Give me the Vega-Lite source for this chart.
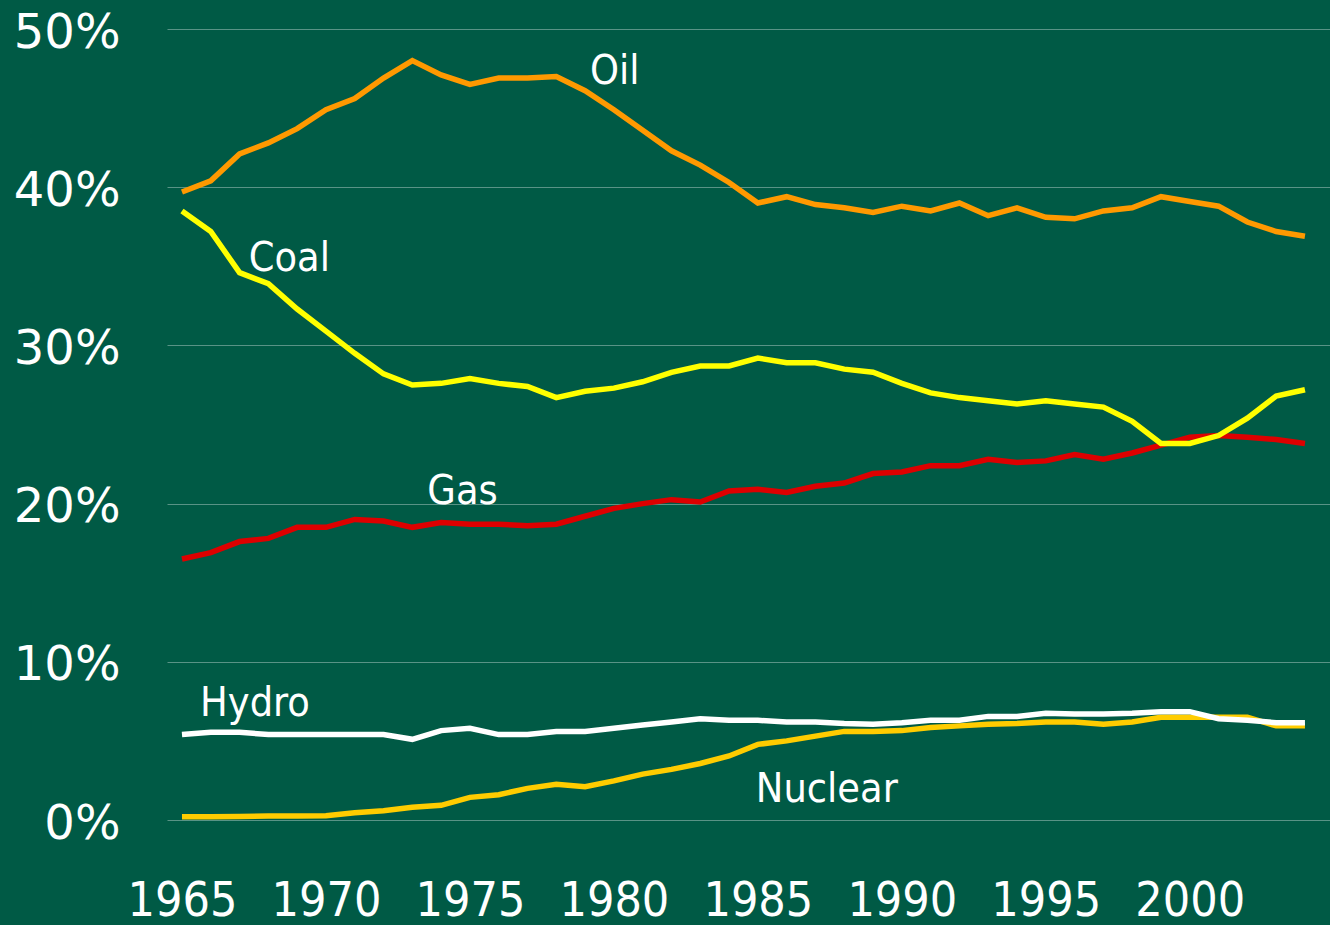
{
  "$schema": "https://vega.github.io/schema/vega-lite/v6.json",
  "width": 1163,
  "height": 791,
  "autosize": {"type": "none"},
  "padding": {"left": 167, "top": 29, "right": 0, "bottom": 105},
  "background": "#005A45",
  "config": {"view": {"stroke": null}},
  "datasets": {
    "energy": [
      {"year":1965,"s":"Oil","v":39.7},{"year":1966,"s":"Oil","v":40.4},{"year":1967,"s":"Oil","v":42.1},{"year":1968,"s":"Oil","v":42.8},{"year":1969,"s":"Oil","v":43.7},{"year":1970,"s":"Oil","v":44.9},{"year":1971,"s":"Oil","v":45.6},{"year":1972,"s":"Oil","v":46.9},{"year":1973,"s":"Oil","v":48.0},{"year":1974,"s":"Oil","v":47.1},{"year":1975,"s":"Oil","v":46.5},{"year":1976,"s":"Oil","v":46.9},{"year":1977,"s":"Oil","v":46.9},{"year":1978,"s":"Oil","v":47.0},{"year":1979,"s":"Oil","v":46.1},{"year":1980,"s":"Oil","v":44.9},{"year":1981,"s":"Oil","v":43.6},{"year":1982,"s":"Oil","v":42.3},{"year":1983,"s":"Oil","v":41.4},{"year":1984,"s":"Oil","v":40.3},{"year":1985,"s":"Oil","v":39.0},{"year":1986,"s":"Oil","v":39.4},{"year":1987,"s":"Oil","v":38.9},{"year":1988,"s":"Oil","v":38.7},{"year":1989,"s":"Oil","v":38.4},{"year":1990,"s":"Oil","v":38.8},{"year":1991,"s":"Oil","v":38.5},{"year":1992,"s":"Oil","v":39.0},{"year":1993,"s":"Oil","v":38.2},{"year":1994,"s":"Oil","v":38.7},{"year":1995,"s":"Oil","v":38.1},{"year":1996,"s":"Oil","v":38.0},{"year":1997,"s":"Oil","v":38.5},{"year":1998,"s":"Oil","v":38.7},{"year":1999,"s":"Oil","v":39.4},{"year":2000,"s":"Oil","v":39.1},{"year":2001,"s":"Oil","v":38.8},{"year":2002,"s":"Oil","v":37.8},{"year":2003,"s":"Oil","v":37.2},{"year":2004,"s":"Oil","v":36.9},
      {"year":1965,"s":"Coal","v":38.5},{"year":1966,"s":"Coal","v":37.2},{"year":1967,"s":"Coal","v":34.6},{"year":1968,"s":"Coal","v":33.9},{"year":1969,"s":"Coal","v":32.3},{"year":1970,"s":"Coal","v":30.9},{"year":1971,"s":"Coal","v":29.5},{"year":1972,"s":"Coal","v":28.2},{"year":1973,"s":"Coal","v":27.5},{"year":1974,"s":"Coal","v":27.6},{"year":1975,"s":"Coal","v":27.9},{"year":1976,"s":"Coal","v":27.6},{"year":1977,"s":"Coal","v":27.4},{"year":1978,"s":"Coal","v":26.7},{"year":1979,"s":"Coal","v":27.1},{"year":1980,"s":"Coal","v":27.3},{"year":1981,"s":"Coal","v":27.7},{"year":1982,"s":"Coal","v":28.3},{"year":1983,"s":"Coal","v":28.7},{"year":1984,"s":"Coal","v":28.7},{"year":1985,"s":"Coal","v":29.2},{"year":1986,"s":"Coal","v":28.9},{"year":1987,"s":"Coal","v":28.9},{"year":1988,"s":"Coal","v":28.5},{"year":1989,"s":"Coal","v":28.3},{"year":1990,"s":"Coal","v":27.6},{"year":1991,"s":"Coal","v":27.0},{"year":1992,"s":"Coal","v":26.7},{"year":1993,"s":"Coal","v":26.5},{"year":1994,"s":"Coal","v":26.3},{"year":1995,"s":"Coal","v":26.5},{"year":1996,"s":"Coal","v":26.3},{"year":1997,"s":"Coal","v":26.1},{"year":1998,"s":"Coal","v":25.2},{"year":1999,"s":"Coal","v":23.8},{"year":2000,"s":"Coal","v":23.8},{"year":2001,"s":"Coal","v":24.3},{"year":2002,"s":"Coal","v":25.4},{"year":2003,"s":"Coal","v":26.8},{"year":2004,"s":"Coal","v":27.2},
      {"year":1965,"s":"Gas","v":16.5},{"year":1966,"s":"Gas","v":16.9},{"year":1967,"s":"Gas","v":17.6},{"year":1968,"s":"Gas","v":17.8},{"year":1969,"s":"Gas","v":18.5},{"year":1970,"s":"Gas","v":18.5},{"year":1971,"s":"Gas","v":19.0},{"year":1972,"s":"Gas","v":18.9},{"year":1973,"s":"Gas","v":18.5},{"year":1974,"s":"Gas","v":18.8},{"year":1975,"s":"Gas","v":18.7},{"year":1976,"s":"Gas","v":18.7},{"year":1977,"s":"Gas","v":18.6},{"year":1978,"s":"Gas","v":18.7},{"year":1979,"s":"Gas","v":19.2},{"year":1980,"s":"Gas","v":19.7},{"year":1981,"s":"Gas","v":20.0},{"year":1982,"s":"Gas","v":20.25},{"year":1983,"s":"Gas","v":20.1},{"year":1984,"s":"Gas","v":20.8},{"year":1985,"s":"Gas","v":20.9},{"year":1986,"s":"Gas","v":20.7},{"year":1987,"s":"Gas","v":21.1},{"year":1988,"s":"Gas","v":21.3},{"year":1989,"s":"Gas","v":21.9},{"year":1990,"s":"Gas","v":22.0},{"year":1991,"s":"Gas","v":22.4},{"year":1992,"s":"Gas","v":22.4},{"year":1993,"s":"Gas","v":22.8},{"year":1994,"s":"Gas","v":22.6},{"year":1995,"s":"Gas","v":22.7},{"year":1996,"s":"Gas","v":23.1},{"year":1997,"s":"Gas","v":22.8},{"year":1998,"s":"Gas","v":23.2},{"year":1999,"s":"Gas","v":23.7},{"year":2000,"s":"Gas","v":24.2},{"year":2001,"s":"Gas","v":24.3},{"year":2002,"s":"Gas","v":24.2},{"year":2003,"s":"Gas","v":24.05},{"year":2004,"s":"Gas","v":23.8},
      {"year":1965,"s":"Hydro","v":5.4},{"year":1966,"s":"Hydro","v":5.55},{"year":1967,"s":"Hydro","v":5.55},{"year":1968,"s":"Hydro","v":5.4},{"year":1969,"s":"Hydro","v":5.4},{"year":1970,"s":"Hydro","v":5.4},{"year":1971,"s":"Hydro","v":5.4},{"year":1972,"s":"Hydro","v":5.4},{"year":1973,"s":"Hydro","v":5.1},{"year":1974,"s":"Hydro","v":5.65},{"year":1975,"s":"Hydro","v":5.8},{"year":1976,"s":"Hydro","v":5.4},{"year":1977,"s":"Hydro","v":5.4},{"year":1978,"s":"Hydro","v":5.6},{"year":1979,"s":"Hydro","v":5.6},{"year":1980,"s":"Hydro","v":5.8},{"year":1981,"s":"Hydro","v":6.0},{"year":1982,"s":"Hydro","v":6.2},{"year":1983,"s":"Hydro","v":6.4},{"year":1984,"s":"Hydro","v":6.3},{"year":1985,"s":"Hydro","v":6.3},{"year":1986,"s":"Hydro","v":6.2},{"year":1987,"s":"Hydro","v":6.2},{"year":1988,"s":"Hydro","v":6.1},{"year":1989,"s":"Hydro","v":6.05},{"year":1990,"s":"Hydro","v":6.15},{"year":1991,"s":"Hydro","v":6.3},{"year":1992,"s":"Hydro","v":6.3},{"year":1993,"s":"Hydro","v":6.55},{"year":1994,"s":"Hydro","v":6.55},{"year":1995,"s":"Hydro","v":6.75},{"year":1996,"s":"Hydro","v":6.7},{"year":1997,"s":"Hydro","v":6.7},{"year":1998,"s":"Hydro","v":6.75},{"year":1999,"s":"Hydro","v":6.85},{"year":2000,"s":"Hydro","v":6.85},{"year":2001,"s":"Hydro","v":6.4},{"year":2002,"s":"Hydro","v":6.3},{"year":2003,"s":"Hydro","v":6.15},{"year":2004,"s":"Hydro","v":6.15},
      {"year":1965,"s":"Nuclear","v":0.2},{"year":1966,"s":"Nuclear","v":0.2},{"year":1967,"s":"Nuclear","v":0.22},{"year":1968,"s":"Nuclear","v":0.25},{"year":1969,"s":"Nuclear","v":0.26},{"year":1970,"s":"Nuclear","v":0.27},{"year":1971,"s":"Nuclear","v":0.46},{"year":1972,"s":"Nuclear","v":0.59},{"year":1973,"s":"Nuclear","v":0.8},{"year":1974,"s":"Nuclear","v":0.93},{"year":1975,"s":"Nuclear","v":1.43},{"year":1976,"s":"Nuclear","v":1.6},{"year":1977,"s":"Nuclear","v":2.0},{"year":1978,"s":"Nuclear","v":2.26},{"year":1979,"s":"Nuclear","v":2.1},{"year":1980,"s":"Nuclear","v":2.47},{"year":1981,"s":"Nuclear","v":2.9},{"year":1982,"s":"Nuclear","v":3.2},{"year":1983,"s":"Nuclear","v":3.57},{"year":1984,"s":"Nuclear","v":4.05},{"year":1985,"s":"Nuclear","v":4.78},{"year":1986,"s":"Nuclear","v":5.0},{"year":1987,"s":"Nuclear","v":5.3},{"year":1988,"s":"Nuclear","v":5.6},{"year":1989,"s":"Nuclear","v":5.6},{"year":1990,"s":"Nuclear","v":5.65},{"year":1991,"s":"Nuclear","v":5.85},{"year":1992,"s":"Nuclear","v":5.95},{"year":1993,"s":"Nuclear","v":6.05},{"year":1994,"s":"Nuclear","v":6.1},{"year":1995,"s":"Nuclear","v":6.2},{"year":1996,"s":"Nuclear","v":6.2},{"year":1997,"s":"Nuclear","v":6.05},{"year":1998,"s":"Nuclear","v":6.2},{"year":1999,"s":"Nuclear","v":6.5},{"year":2000,"s":"Nuclear","v":6.5},{"year":2001,"s":"Nuclear","v":6.5},{"year":2002,"s":"Nuclear","v":6.5},{"year":2003,"s":"Nuclear","v":5.95},{"year":2004,"s":"Nuclear","v":5.95}
    ],
    "labels": [
      {"label":"Oil","year":1979.17,"v":46.5},
      {"label":"Coal","year":1967.32,"v":34.7},
      {"label":"Gas","year":1973.52,"v":20.0},
      {"label":"Hydro","year":1965.63,"v":6.55},
      {"label":"Nuclear","year":1984.93,"v":1.16}
    ]
  },
  "encoding": {
    "x": {
      "field": "year", "type": "quantitative",
      "scale": {"domain": [1964.48, 2004.87], "nice": false, "zero": false},
      "axis": {
        "title": null, "values": [1965,1970,1975,1980,1985,1990,1995,2000], "format": "d",
        "grid": false, "domain": false, "ticks": false, "tickSize": 0,
        "labelFont": "DejaVu Sans Condensed", "labelFontSize": 48, "labelColor": "#ffffff",
        "labelBaseline": "alphabetic", "labelPadding": 95, "labelFlush": false, "labelOverlap": false
      }
    },
    "y": {
      "field": "v", "type": "quantitative",
      "scale": {"domain": [0, 50], "nice": false},
      "axis": {
        "title": null, "values": [0,10,20,30,40,50], "labelExpr": "datum.value + '%'",
        "grid": true, "gridColor": "#ffffff", "gridOpacity": 0.35, "gridWidth": 1.2,
        "domain": false, "ticks": false, "tickSize": 0,
        "labelFont": "DejaVu Sans", "labelFontSize": 48, "labelColor": "#ffffff",
        "labelPadding": 47, "labelBaseline": "middle", "labelOffset": 4, "labelFlush": false
      }
    }
  },
  "layer": [
    {"data": {"name": "energy"}, "transform": [{"filter": "datum.s === 'Nuclear'"}], "mark": {"type": "line", "color": "#FFCC00", "strokeWidth": 5.5}},
    {"data": {"name": "energy"}, "transform": [{"filter": "datum.s === 'Hydro'"}], "mark": {"type": "line", "color": "#FFFFFF", "strokeWidth": 5.5}},
    {"data": {"name": "energy"}, "transform": [{"filter": "datum.s === 'Gas'"}], "mark": {"type": "line", "color": "#DD0000", "strokeWidth": 5.5}},
    {"data": {"name": "energy"}, "transform": [{"filter": "datum.s === 'Coal'"}], "mark": {"type": "line", "color": "#FFFF00", "strokeWidth": 5.5}},
    {"data": {"name": "energy"}, "transform": [{"filter": "datum.s === 'Oil'"}], "mark": {"type": "line", "color": "#FF9900", "strokeWidth": 5.5}},
    {"data": {"name": "labels"}, "mark": {"type": "text", "align": "left", "baseline": "alphabetic", "font": "DejaVu Sans Condensed", "fontSize": 41, "color": "#ffffff"},
     "encoding": {"text": {"field": "label"}}}
  ]
}
